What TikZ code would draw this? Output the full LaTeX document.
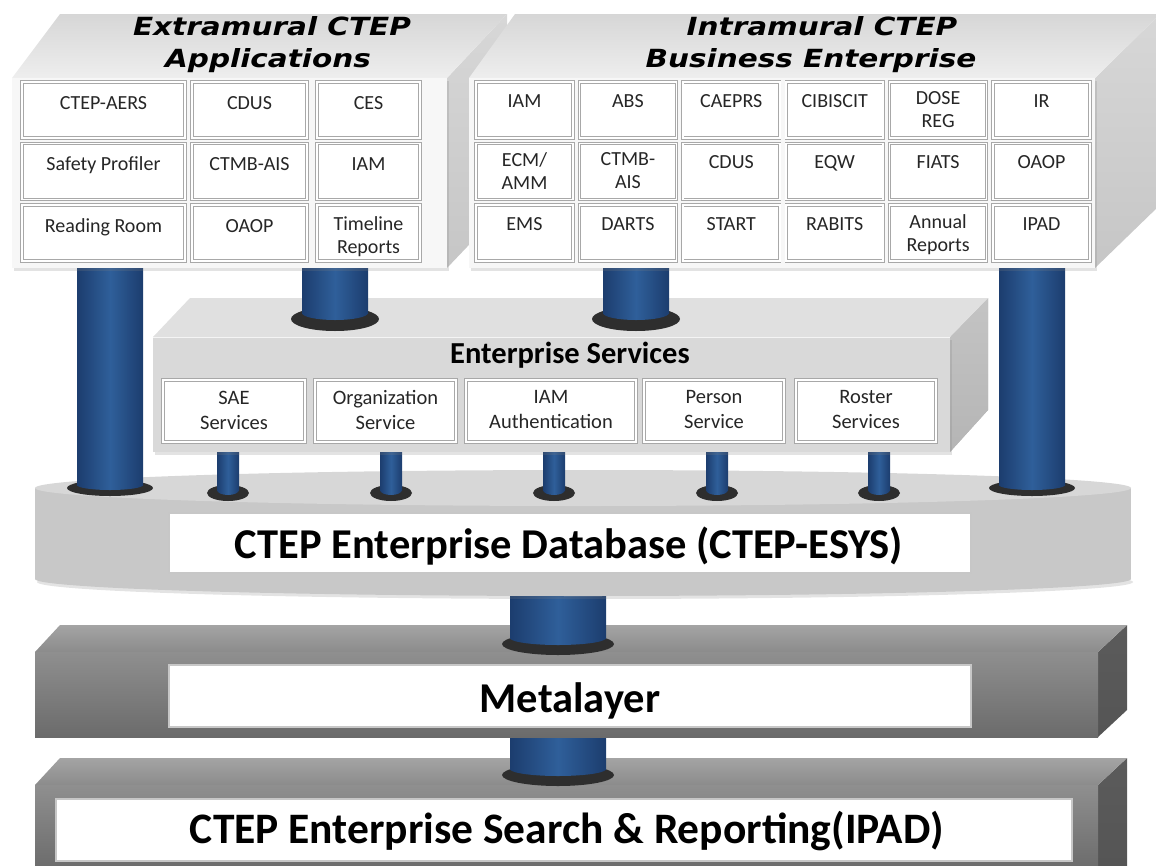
\documentclass[tikz,border=0pt]{standalone}
\usepackage{fontspec}
\setmainfont{Carlito}
\newfontfamily\titlefont{DejaVu Sans}
\usetikzlibrary{shadows}
\definecolor{pillarblue}{HTML}{2F5F9A}
\definecolor{pillardark}{HTML}{1C3D6E}
\definecolor{footgray}{HTML}{2E2E2E}
\definecolor{framegray}{HTML}{A8A8A8}
\definecolor{paleface}{HTML}{F7F7F7}
\definecolor{paletop}{HTML}{EEEEEE}
\definecolor{paleside}{HTML}{C6C6C6}
\definecolor{midface}{HTML}{D9D9D9}
\definecolor{midtop}{HTML}{E0E0E0}
\definecolor{midside}{HTML}{B5B5B5}
\definecolor{dbface}{HTML}{C8C8C8}
\definecolor{dbtop}{HTML}{D7D7D7}
\definecolor{slabtop}{HTML}{A4A4A4}
\definecolor{slabfront}{HTML}{8F8F8F}
\definecolor{slabfrontlow}{HTML}{6B6B6B}
\definecolor{slabside}{HTML}{6A6A6A}
\tikzset{
  pillar/.style={left color=pillardark, right color=pillardark, middle color=pillarblue},
  pillarfoot/.style={fill=footgray},
  blockshadow/.style={drop shadow={shadow xshift=2pt, shadow yshift=-3pt, opacity=0.22}},
  palefront/.style={fill=paleface},
  paletopface/.style={top color=paletop!90!black, bottom color=paletop},
  palesideface/.style={top color=paleside!70!white, bottom color=paleside},
  midfront/.style={fill=midface},
  midtopface/.style={fill=midtop},
  midsideface/.style={top color=midside!80!white, bottom color=midside},
  slabfrontface/.style={top color=slabfront, bottom color=slabfrontlow},
  slabtopface/.style={top color=slabtop, bottom color=slabtop!85!black},
  slabsideface/.style={top color=slabside!110!white, bottom color=slabside!80!black},
  cellbox/.style={draw=framegray, double=white, double distance=1.6pt, line width=0.8pt, fill=white},
  labelbox/.style={draw=black!22, line width=1.5pt, fill=white},
  celltext/.style={anchor=north, align=center, inner sep=0pt, text=black!85,
    font=\fontsize{20}{23}\selectfont, execute at begin node=\strut},
  servicetext/.style={anchor=north, align=center, inner sep=0pt, text=black!85,
    font=\fontsize{20.5}{25}\selectfont, execute at begin node=\strut},
  blocktitle/.style={anchor=base, inner sep=0pt, font=\titlefont\bfseries\itshape\fontsize{25}{30}\selectfont},
  layertitle/.style={anchor=base, inner sep=0pt, font=\bfseries\fontsize{30.5}{35}\selectfont},
  layertext/.style={anchor=base, inner sep=0pt, font=\bfseries\fontsize{42.5}{48}\selectfont}
}

\begin{document}
\begin{tikzpicture}[x=1pt,y=-1pt]
  \useasboundingbox (0,0) rectangle (1156,865);

  % search and reporting slab
  \shade[slabsideface] (1098,785) -- (1127,758) -- (1127,870) -- (1098,870) -- cycle;
  \shade[slabtopface] (35,785) -- (60,758) -- (1127,758) -- (1098,785) -- cycle;
  \shade[slabfrontface] (35,785) rectangle (1098,870);
  \draw[labelbox] (56,799) rectangle (1072,861);
  \node[layertext, font=\bfseries\fontsize{43.5}{48}\selectfont] (search) at (567,843) {CTEP Enterprise Search \& Reporting(IPAD)};

  % pillar metalayer -> search
  \fill[pillarfoot] (558,775) ellipse[x radius=56, y radius=11];
  \shade[pillar] (510,730) rectangle (606,769);
  \shade[pillar] (558,769) ellipse[x radius=48, y radius=7];

  % metalayer slab
  \shade[slabsideface] (1098,652) -- (1127,625) -- (1127,710) -- (1098,737) -- cycle;
  \shade[slabtopface] (35,652) -- (60,625) -- (1127,625) -- (1098,652) -- cycle;
  \shade[slabfrontface] (35,652) rectangle (1098,737);
  \draw[labelbox] (169,665) rectangle (971,727);
  \node[layertext] (meta) at (570,712) {Metalayer};

  % pillar database -> metalayer
  \fill[pillarfoot] (558,644) ellipse[x radius=56, y radius=11];
  \shade[pillar] (510,585) rectangle (606,638);
  \shade[pillar] (558,638) ellipse[x radius=48, y radius=7];

  % enterprise database
  \fill[dbface, blockshadow] (583,579) ellipse[x radius=548, y radius=17];
  \fill[dbface] (35,488) rectangle (1131,579);
  \fill[dbtop] (583,488) ellipse[x radius=548, y radius=18];
  \draw[labelbox] (169,513) rectangle (971,573);
  \node[layertext] (esys) at (569,558) {CTEP Enterprise Database (CTEP-ESYS)};

  % pillars standing on the database
  \foreach \cx/\hw/\yt/\yb in {110/33/260/485, 1032/33/260/485,
      228/11/445/490, 391/11/445/490, 554/11/445/490, 717/11/445/490, 879/11/445/490}{
    \pgfmathsetmacro{\fr}{\hw+10}
    \pgfmathsetmacro{\fy}{\yb+3}
    \fill[pillarfoot] (\cx,\fy) ellipse[x radius=\fr, y radius=8];
    \shade[pillar] (\cx-\hw,\yt) rectangle (\cx+\hw,\yb);
    \shade[pillar] (\cx,\yb) ellipse[x radius=\hw, y radius=5];
  }

  % enterprise services block
  \fill[midside] (950,337) -- (988,298) -- (988,410) -- (950,452) -- cycle;
  \shade[midsideface] (950,337) -- (988,298) -- (988,410) -- (950,452) -- cycle;
  \fill[midtopface] (153,337) -- (190,298) -- (988,298) -- (950,337) -- cycle;
  \fill[midfront, blockshadow] (153,337) rectangle (950,452);
  \draw[white!70!midface, line width=1pt] (153,337) -- (950,337);
  \node[layertitle] (services) at (570,363) {Enterprise Services};
  \foreach \xa/\xb/\lbl [count=\i] in {163/305/SAE\\Services, 315/456/Organization\\Service,
      466/636/IAM\\Authentication, 644/784/Person\\Service, 796/936/Roster\\Services}{
    \draw[cellbox] (\xa,380) rectangle (\xb,442);
    \node[servicetext] (svc-\i) at ({(\xa+\xb)/2},390.5) {\lbl};
  }

  % pillars from the application blocks onto the services block
  \foreach \cx in {335,636}{
    \fill[pillarfoot] (\cx,319) ellipse[x radius=44, y radius=12];
    \shade[pillar] (\cx-33,260) rectangle (\cx+33,313);
    \shade[pillar] (\cx,313) ellipse[x radius=33, y radius=7];
  }

  % extramural block
  \shade[palesideface] (447,78) -- (507,14) -- (507,205) -- (447,268) -- cycle;
  \shade[paletopface] (12,78) -- (60,14) -- (507,14) -- (447,78) -- cycle;
  \fill[palefront, blockshadow] (12,78) rectangle (447,268);
  \node[blocktitle] (ext-title1) at (272,35) {\scalebox{1.18}[1]{Extramural CTEP}};
  \node[blocktitle] (ext-title2) at (268,67) {\scalebox{1.18}[1]{Applications}};
  \foreach \xa/\xb in {22/185, 192/307, 317/420}
    \foreach \r in {0,1,2}
      \draw[cellbox] (\xa,82+61.5*\r) rectangle (\xb,138+61.5*\r);
  \foreach \lbl [count=\i from 0] in {CTEP-AERS, CDUS, CES, Safety Profiler, CTMB-AIS, IAM,
      Reading Room, OAOP, Timeline\\Reports}{
    \pgfmathsetmacro{\cx}{{103.5,249.5,368.5}[mod(\i,3)]}
    \pgfmathsetmacro{\cy}{93+61.5*div(\i,3)}
    \node[celltext] (ext-\i) at (\cx,\cy) {\lbl};
  }

  % intramural block
  \shade[palesideface] (1095,78) -- (1160,14) -- (1160,205) -- (1095,268) -- cycle;
  \shade[paletopface] (469,78) -- (515,14) -- (1160,14) -- (1095,78) -- cycle;
  \fill[palefront, blockshadow] (469,78) rectangle (1095,268);
  \node[blocktitle] (int-title1) at (822,35) {\scalebox{1.18}[1]{Intramural CTEP}};
  \node[blocktitle] (int-title2) at (811,67) {\scalebox{1.18}[1]{Business Enterprise}};
  \foreach \c in {0,...,5}
    \foreach \r in {0,1,2}
      \draw[cellbox] (476+103.4*\c,82+61.5*\r) rectangle (573+103.4*\c,138+61.5*\r);
  \foreach \lbl [count=\i from 0] in {IAM, ABS, CAEPRS, CIBISCIT, DOSE\\REG, IR,
      ECM/\\AMM, CTMB-\\AIS, CDUS, EQW, FIATS, OAOP,
      EMS, DARTS, START, RABITS, Annual\\Reports, IPAD}{
    \pgfmathsetmacro{\cx}{524.5+103.4*mod(\i,6)}
    \pgfmathsetmacro{\cy}{91+61.5*div(\i,6)}
    \node[celltext] (int-\i) at (\cx,\cy) {\lbl};
  }
\end{tikzpicture}
\end{document}
